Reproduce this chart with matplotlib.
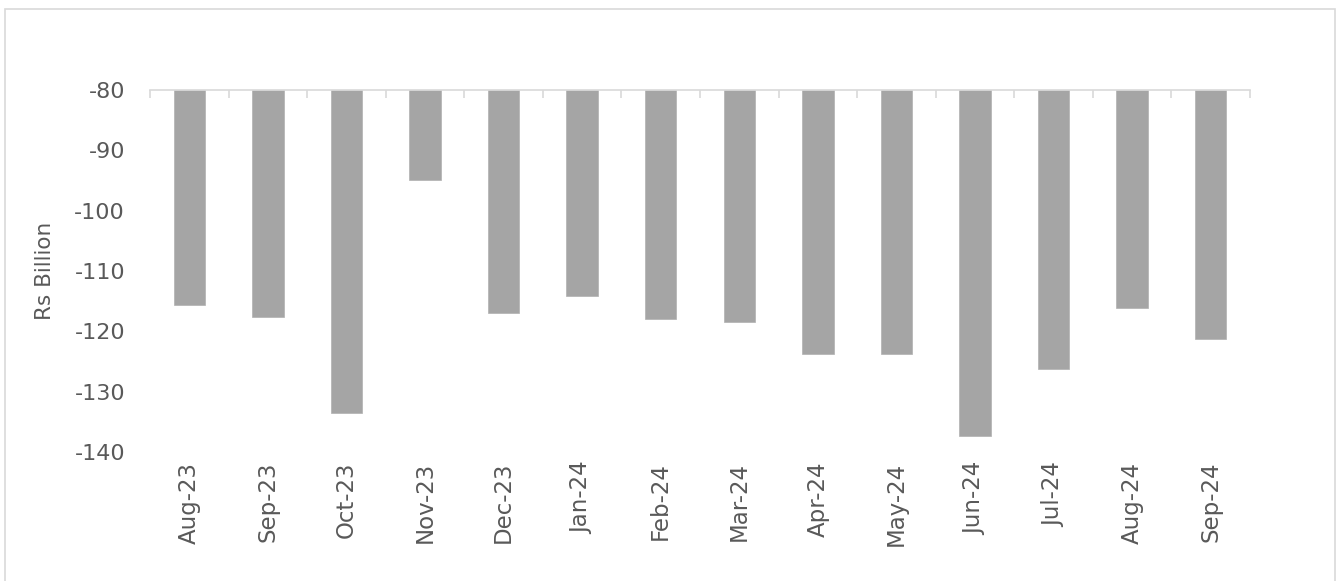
import numpy as np
import matplotlib.pyplot as plt
import matplotlib.patches as patches

# Datos (Rs Billion)
months = ["Aug-23", "Sep-23", "Oct-23", "Nov-23", "Dec-23", "Jan-24", "Feb-24",
          "Mar-24", "Apr-24", "May-24", "Jun-24", "Jul-24", "Aug-24", "Sep-24"]
values = [-115.7, -117.6, -133.6, -94.9, -117.0, -114.2, -117.9,
          -118.4, -123.8, -123.8, -137.3, -126.2, -116.2, -121.3]
base = -80
y_ticks = [-80, -90, -100, -110, -120, -130, -140]

TEXT = "#595959"
AXIS = "#d9d9d9"
BAR = "#a5a5a5"

fig = plt.figure(figsize=(13.38, 5.81), dpi=100)
ax = fig.add_axes([150 / 1338, 1 - 452 / 581, 1100 / 1338, 362 / 581])

x = np.arange(len(months))
heights = [v - base for v in values]
ax.bar(x, heights, bottom=base, width=0.4, color=BAR, edgecolor="#b0b0b0", linewidth=0.5, zorder=2)

ax.set_xlim(-0.5, len(months) - 0.5)
ax.set_ylim(-140, -80)
ax.set_yticks(y_ticks)
ax.set_yticklabels([str(t) for t in y_ticks], fontsize=16, color=TEXT)
ax.tick_params(axis="y", length=0, pad=18)

# Etiquetas del eje x abajo, rotadas
ax.set_xticks(x)
ax.set_xticklabels(months, rotation=90, fontsize=16.5, color=TEXT)
ax.tick_params(axis="x", which="major", length=0, pad=7, top=False, bottom=True)

# Línea del eje en -80 (arriba) con marcas entre categorías
for s in ["left", "right", "bottom"]:
    ax.spines[s].set_visible(False)
ax.spines["top"].set_color(AXIS)
ax.spines["top"].set_linewidth(1.2)
ax.set_xticks(np.arange(len(months) + 1) - 0.5, minor=True)
ax.tick_params(axis="x", which="minor", top=True, bottom=False, direction="in",
               length=6, width=1.2, color=AXIS)

ax.set_ylabel("Rs Billion", fontsize=15.5, color=TEXT, labelpad=14)

# Borde exterior del gráfico
border = patches.Rectangle((5 / 1338, -0.01), 1330 / 1338, 1 - 9 / 581 + 0.01,
                           transform=fig.transFigure, fill=False,
                           edgecolor=AXIS, linewidth=1.2)
fig.patches.append(border)

fig.savefig("out.png", dpi=100)
